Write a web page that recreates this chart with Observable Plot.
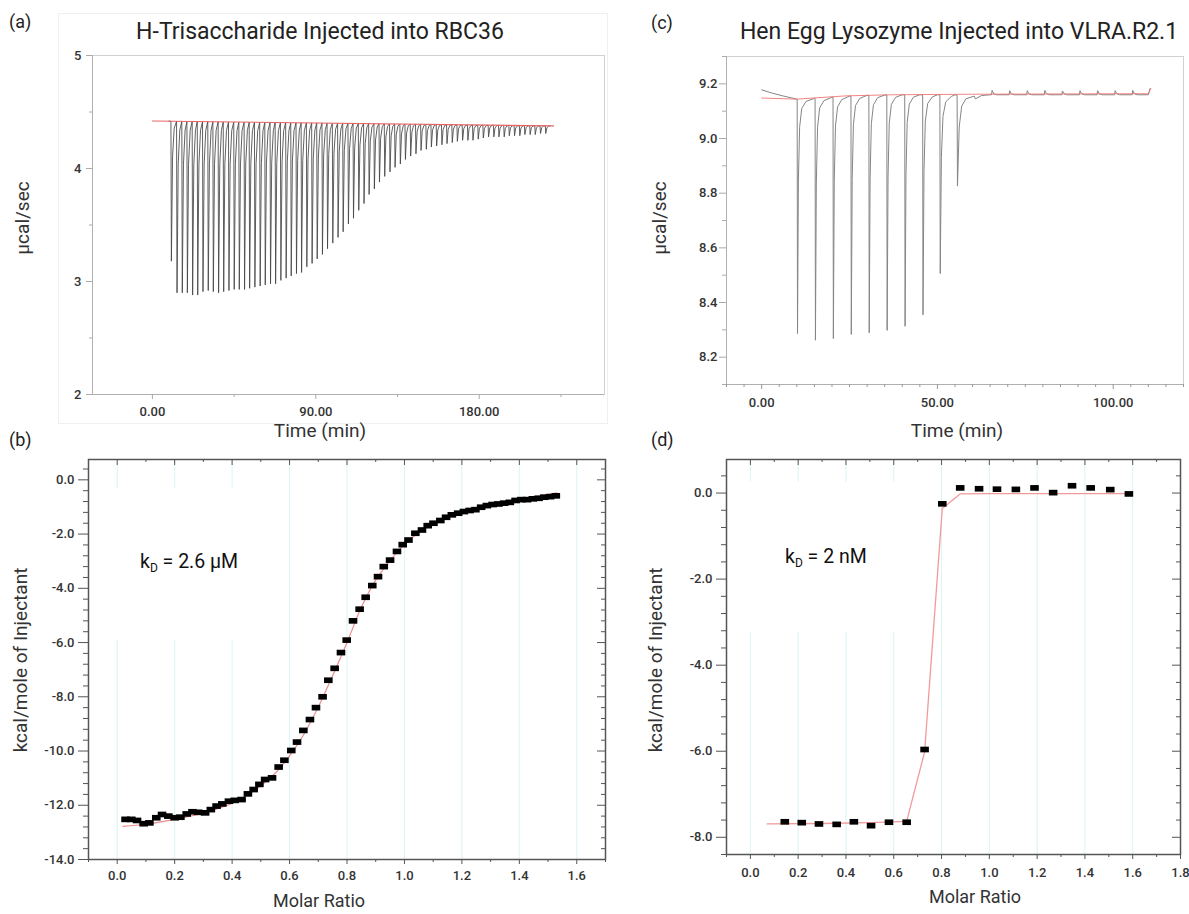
<!DOCTYPE html>
<html><head><meta charset="utf-8">
<script src="https://cdn.jsdelivr.net/npm/d3@7"></script>
<script src="https://cdn.jsdelivr.net/npm/@observablehq/plot@0.6"></script>
<style>
body{margin:0;background:#fff;}
#root{position:relative;width:1189px;height:914px;overflow:hidden;font-family:Roboto,sans-serif;color:#222;background:#fff;}
.abs{position:absolute;white-space:nowrap;line-height:1;}
.c{transform:translate(-50%,-50%);}
.r{transform:translate(-50%,-50%) rotate(-90deg);}
.l{transform:translate(0,-50%);}
.title{font-size:23px;color:#222;}
.tag{font-size:18px;color:#222;}
.axl{font-size:19px;color:#333;}
.axs{font-size:18px;color:#333;}
.kd{font-size:19.5px;color:#111;}
.kd span{font-size:12px;position:relative;top:4px;}
.panel{position:absolute;}
.imgbox{position:absolute;border:1px solid #efefef;}
</style></head>
<body><div id="root"></div>
<script>
// ---------------- Panel (a): thermogram, H-Trisaccharide into RBC36 ----------------
const aInjTime = [10.2, 13.3, 16.2, 19.0, 21.9, 24.7, 27.6, 30.5, 33.3, 36.2, 39.0, 41.9, 44.8, 47.6, 50.5, 53.3, 56.2, 59.1, 61.9, 64.8, 67.6, 70.5, 73.4, 76.2, 79.1, 81.9, 84.8, 87.7, 90.5, 93.4, 96.2, 99.1, 102.0, 104.8, 107.7, 110.5, 113.4, 116.3, 119.1, 122.0, 124.8, 127.7, 130.6, 133.4, 136.3, 139.1, 142.0, 144.9, 147.7, 150.6, 153.4, 156.3, 159.2, 162.0, 164.9, 167.7, 170.6, 173.5, 176.3, 179.2, 182.0, 184.9, 187.8, 190.6, 193.5, 196.3, 199.2, 202.1, 204.9, 207.8, 210.6, 213.5, 216.4];
const aInjTip = [3.18, 2.90, 2.90, 2.90, 2.88, 2.88, 2.91, 2.92, 2.91, 2.90, 2.91, 2.92, 2.93, 2.93, 2.93, 2.94, 2.95, 2.96, 2.97, 2.98, 2.98, 3.01, 3.03, 3.05, 3.07, 3.08, 3.13, 3.16, 3.20, 3.24, 3.29, 3.34, 3.39, 3.44, 3.51, 3.56, 3.63, 3.69, 3.77, 3.82, 3.88, 3.93, 3.97, 4.01, 4.04, 4.08, 4.11, 4.13, 4.16, 4.17, 4.19, 4.20, 4.21, 4.22, 4.23, 4.24, 4.25, 4.25, 4.25, 4.26, 4.27, 4.28, 4.28, 4.28, 4.28, 4.29, 4.29, 4.29, 4.30, 4.30, 4.30, 4.31, 4.31];
const aBaseTime = [0, 221];
const aBaseVal = [4.42, 4.377];
const aTraceStart = 9, aTraceEnd = 219;
const aYTicks = [2, 3, 4, 5];
const aYMinor = [2.5, 3.5, 4.5];
const aXTicks = [0, 90, 180];
const aXMinor = [45, 135, 225];

// ---------------- Panel (b): isotherm, H-Trisaccharide ----------------
const bRatio = [0.029, 0.049, 0.069, 0.092, 0.112, 0.136, 0.156, 0.178, 0.200, 0.220, 0.242, 0.262, 0.282, 0.306, 0.326, 0.346, 0.366, 0.389, 0.409, 0.433, 0.455, 0.475, 0.495, 0.515, 0.539, 0.562, 0.582, 0.606, 0.626, 0.648, 0.671, 0.692, 0.715, 0.735, 0.757, 0.779, 0.799, 0.821, 0.844, 0.865, 0.888, 0.908, 0.928, 0.950, 0.974, 0.994, 1.014, 1.038, 1.061, 1.081, 1.101, 1.125, 1.145, 1.165, 1.187, 1.207, 1.227, 1.247, 1.267, 1.287, 1.307, 1.327, 1.347, 1.367, 1.387, 1.407, 1.427, 1.447, 1.467, 1.487, 1.507, 1.527];
const bHeat = [-12.52, -12.52, -12.56, -12.68, -12.65, -12.46, -12.34, -12.40, -12.46, -12.44, -12.32, -12.24, -12.26, -12.28, -12.16, -12.03, -11.95, -11.85, -11.82, -11.79, -11.58, -11.42, -11.23, -11.05, -10.99, -10.59, -10.34, -9.98, -9.67, -9.24, -8.84, -8.40, -8.00, -7.39, -6.95, -6.37, -5.91, -5.20, -4.77, -4.33, -3.90, -3.57, -3.20, -2.96, -2.64, -2.39, -2.22, -1.97, -1.85, -1.69, -1.60, -1.50, -1.38, -1.29, -1.23, -1.17, -1.13, -1.10, -1.01, -0.95, -0.91, -0.89, -0.86, -0.83, -0.76, -0.73, -0.73, -0.70, -0.68, -0.64, -0.62, -0.59];
const bFitRatio = [0.02, 0.1, 0.2, 0.3, 0.4, 0.5, 0.55, 0.6, 0.65, 0.7, 0.75, 0.8, 0.85, 0.9, 0.95, 1.0, 1.05, 1.1, 1.2, 1.3, 1.4, 1.53];
const bFitHeat = [-12.78, -12.70, -12.52, -12.28, -11.92, -11.28, -10.82, -10.18, -9.38, -8.38, -7.22, -6.0, -4.70, -3.70, -2.98, -2.38, -1.94, -1.62, -1.18, -0.92, -0.72, -0.48];
const bXTicks = [0, 0.2, 0.4, 0.6, 0.8, 1.0, 1.2, 1.4, 1.6];
const bYTicks = [0, -2, -4, -6, -8, -10, -12, -14];
// gridlines interrupted behind the kD label box
const bGapX = [0, 0.2, 0.4];
const bGapY = [-5.92, -0.32];

// ---------------- Panel (c): thermogram, Hen Egg Lysozyme into VLRA.R2.1 ----------------
const cInjTime = [10.1, 15.2, 20.3, 25.4, 30.5, 35.6, 40.7, 45.8, 50.7, 55.6];
const cInjTip = [8.286, 8.262, 8.268, 8.283, 8.289, 8.298, 8.313, 8.355, 8.506, 8.826];
const cInjDecay = [1, 1, 1, 1, 1, 1, 1, 1.1, 1.3, 2.0];
const cBlankTime = [65.4, 70.4, 75.4, 80.4, 85.4, 90.4, 95.4, 100.4, 105.4];
const cBlankTip = [9.176, 9.175, 9.175, 9.176, 9.174, 9.175, 9.175, 9.175, 9.176];
const cTraceTime = [0, 3, 6, 10, 15, 20, 25, 30, 35, 40, 45, 50, 55, 60.8, 62.5, 65, 110, 110.5];
const cTraceVal = [9.178, 9.166, 9.156, 9.144, 9.147, 9.151, 9.155, 9.158, 9.159, 9.160, 9.160, 9.160, 9.160, 9.145, 9.157, 9.160, 9.160, 9.183];
const cBaseTime = [0, 10, 24, 37, 60, 110, 110.7];
const cBaseVal = [9.148, 9.144, 9.156, 9.160, 9.162, 9.164, 9.183];
const cYTicks = [8.2, 8.4, 8.6, 8.8, 9.0, 9.2];
const cXTicks = [0, 50, 100];

// ---------------- Panel (d): isotherm, Hen Egg Lysozyme ----------------
const dRatio = [0.144, 0.215, 0.287, 0.361, 0.433, 0.505, 0.580, 0.654, 0.729, 0.803, 0.878, 0.957, 1.032, 1.111, 1.189, 1.267, 1.346, 1.424, 1.506, 1.584];
const dHeat = [-7.64, -7.66, -7.69, -7.70, -7.64, -7.73, -7.65, -7.65, -5.96, -0.25, 0.12, 0.10, 0.09, 0.085, 0.12, 0.01, 0.17, 0.12, 0.08, -0.02];
const dFitRatio = [0.07, 0.30, 0.50, 0.654, 0.729, 0.803, 0.878, 1.0, 1.59];
const dFitHeat = [-7.69, -7.68, -7.66, -7.63, -6.02, -0.36, -0.02, -0.015, -0.015];
const dXTicks = [0, 0.2, 0.4, 0.6, 0.8, 1.0, 1.2, 1.4, 1.6, 1.8];
const dYTicks = [0, -2, -4, -6, -8];
const dGridX = [0, 0.2, 0.4, 0.6, 0.8, 1.0, 1.2, 1.4, 1.6];
const dGapX = [0, 0.2, 0.4, 0.6];
const dGapY = [-3.24, 0.25];

// ---------------- helpers ----------------
const root = document.getElementById("root");
function txt(html, x, y, cls) {
  const d = document.createElement("div");
  d.className = "abs " + cls;
  d.innerHTML = html;
  d.style.left = x + "px";
  d.style.top = y + "px";
  root.appendChild(d);
}
function place(svg, left, top) {
  const w = document.createElement("div");
  w.className = "panel";
  w.style.left = left + "px";
  w.style.top = top + "px";
  w.appendChild(svg);
  root.appendChild(w);
}
const minorOf = (lo, hi, step, major) => d3.range(Math.round(lo / step), Math.round(hi / step) + 1)
  .map(i => +(i * step).toFixed(6))
  .filter(v => !major.some(m => Math.abs(m - v) < 1e-6));
// grid segments: full height, except split around the label box
function gridSegs(xs, gapX, gapY, yd) {
  const segs = [];
  xs.forEach(x => {
    if (gapX.some(g => Math.abs(g - x) < 1e-9)) {
      segs.push({x, y1: yd[0], y2: gapY[0]}, {x, y1: gapY[1], y2: yd[1]});
    } else segs.push({x, y1: yd[0], y2: yd[1]});
  });
  return segs;
}
const boxSym = { draw(ctx, size) { const r = Math.sqrt(size / Math.PI); const h = r * 0.66; ctx.moveTo(-r, -h); ctx.lineTo(r, -h); ctx.lineTo(r, h); ctx.lineTo(-r, h); ctx.closePath(); } };
const f1 = d => d.toFixed(1);
const f2 = d => d.toFixed(2);
const none = () => "";
const baseStyle = {fontFamily: "Roboto, sans-serif", fontSize: "13px", fontWeight: 500, color: "#333", background: "transparent", overflow: "visible"};
const gridColor = "#dcf3f7";

// ---------------- build traces ----------------
const aBase = d3.scaleLinear().domain(aBaseTime).range(aBaseVal);
const aTrace = [{t: aTraceStart, v: aBase(aTraceStart)}];
aInjTime.forEach((t, i) => {
  const b = aBase(t), d = aInjTip[i] - b;
  aTrace.push({t, v: b}, {t: t + 0.25, v: aInjTip[i]}, {t: t + 0.9, v: b + d * 0.25}, {t: t + 1.8, v: b + d * 0.05});
});
aTrace.push({t: aTraceEnd, v: aBase(aTraceEnd)});
const aBaseline = aBaseTime.map((t, i) => ({t, v: aBaseVal[i]}));

const cBase = d3.scaleLinear().domain(cTraceTime).range(cTraceVal);
const cTrace = [];
const spans = [];
cInjTime.forEach((t, i) => {
  const b = cBase(t), tip = cInjTip[i], d = tip - b, k = cInjDecay[i];
  const pts = [[t, b], [t + 0.1, tip], [t + 0.1 + 0.25 * k, b + 0.35 * d], [t + 0.1 + 0.6 * k, b + 0.12 * d], [t + 0.1 + 1.2 * k, b + 0.04 * d], [t + 0.1 + 2.4 * k, b + 0.01 * d]];
  spans.push([t, t + 0.1 + 2.4 * k]);
  pts.forEach(([x, y]) => cTrace.push({t: x, v: y}));
});
cBlankTime.forEach((t, i) => {
  const b = cBase(t);
  [[t, b], [t + 0.15, cBlankTip[i]], [t + 0.6, b + 0.004], [t + 1.4, b]].forEach(([x, y]) => cTrace.push({t: x, v: y}));
  spans.push([t, t + 1.4]);
});
cTraceTime.forEach((t, i) => {
  if (!spans.some(([a, z]) => t >= a - 0.01 && t <= z + 0.01)) cTrace.push({t, v: cTraceVal[i]});
});
cTrace.sort((p, q) => p.t - q.t);
const cBaseline = cBaseTime.map((t, i) => ({t, v: cBaseVal[i]}));

// faint border of the original (a) picture
{
  const b = document.createElement("div");
  b.className = "imgbox";
  b.style.left = "58px"; b.style.top = "13px"; b.style.width = "548px"; b.style.height = "409px";
  root.appendChild(b);
}

// ---------------- Panel (a) ----------------
{
  const W = 612, H = 400, m = {top: 15, right: 8, bottom: 46, left: 92};
  const xd = [-33, 249], yd = [2, 5];
  place(Plot.plot({
    width: W, height: H, marginTop: m.top, marginRight: m.right, marginBottom: m.bottom, marginLeft: m.left,
    x: {domain: xd}, y: {domain: yd}, style: baseStyle,
    marks: [
      Plot.frame({stroke: "#d0d0d0"}),
      Plot.ruleX([xd[0]], {stroke: "#b0b0b0"}),
      Plot.ruleY([yd[0]], {stroke: "#b0b0b0"}),
      Plot.axisY(aYTicks, {tickSize: 6, tickPadding: 5, stroke: "#aaa", fill: "#333", tickFormat: d => String(d), label: null}),
      Plot.axisY(aYMinor, {tickSize: 3, stroke: "#aaa", tickFormat: none, label: null}),
      Plot.axisX(aXTicks, {tickSize: 5, tickPadding: 7, stroke: "#aaa", fill: "#333", tickFormat: f2, label: null}),
      Plot.axisX(aXMinor, {tickSize: 3, stroke: "#aaa", tickFormat: none, label: null}),
      Plot.line(aTrace, {x: "t", y: "v", stroke: "#444", strokeWidth: 0.85}),
      Plot.line(aBaseline, {x: "t", y: "v", stroke: "#e86464", strokeWidth: 1.1})
    ]
  }), 0, 40);
}

// ---------------- Panel (b) ----------------
{
  const W = 612, H = 469, m = {top: 14, right: 7, bottom: 55, left: 88};
  const xd = [-0.1, 1.7], yd = [-14, 0.75];
  const fh = H - m.top - m.bottom, fw = W - m.left - m.right;
  const xMinor = minorOf(-0.1, 1.7, 0.1, bXTicks);
  const yMinor = minorOf(-14, 0.4, 0.4, bYTicks);
  const pts = bRatio.map((x, i) => ({x, y: bHeat[i]}));
  const fit = bFitRatio.map((x, i) => ({x, y: bFitHeat[i]}));
  place(Plot.plot({
    width: W, height: H, marginTop: m.top, marginRight: m.right, marginBottom: m.bottom, marginLeft: m.left,
    x: {domain: xd}, y: {domain: yd}, style: baseStyle,
    marks: [
      Plot.ruleX(gridSegs(bXTicks, bGapX, bGapY, yd), {x: "x", y1: "y1", y2: "y2", stroke: gridColor, strokeWidth: 1}),
      Plot.axisY(bYTicks, {tickSize: 10, tickPadding: 4, stroke: "#555", fill: "#333", tickFormat: f1, label: null}),
      Plot.axisY(yMinor, {tickSize: 5, stroke: "#555", tickFormat: none, label: null}),
      Plot.axisX(bXTicks, {tickSize: 5, tickPadding: 6, stroke: "#555", fill: "#333", tickFormat: f1, label: null}),
      Plot.axisX(xMinor, {tickSize: 3, stroke: "#555", tickFormat: none, label: null}),
      Plot.tickX(bXTicks, {x: d => d, stroke: "#555", insetBottom: fh - 6}),
      Plot.tickX(xMinor, {x: d => d, stroke: "#555", insetBottom: fh - 3}),
      Plot.tickY(bYTicks, {y: d => d, stroke: "#555", insetLeft: fw - 8}),
      Plot.tickY(yMinor, {y: d => d, stroke: "#555", insetLeft: fw - 4}),
      Plot.frame({stroke: "#555", strokeWidth: 1.5}),
      Plot.line(fit, {x: "x", y: "y", stroke: "#f08c8c", strokeWidth: 1.2, curve: "catmull-rom"}),
      Plot.dot(pts, {x: "x", y: "y", symbol: boxSym, r: 4.3, fill: "#000", stroke: "none"})
    ]
  }), 0, 445);
}

// ---------------- Panel (c) ----------------
{
  const W = 569, H = 400, m = {top: 16, right: 6, bottom: 56, left: 106};
  const xd = [-10, 120], yd = [8.1, 9.3];
  const xMinor = minorOf(-10, 120, 5, cXTicks);
  const yMinor = minorOf(8.1, 9.3, 0.1, cYTicks);
  place(Plot.plot({
    width: W, height: H, marginTop: m.top, marginRight: m.right, marginBottom: m.bottom, marginLeft: m.left,
    x: {domain: xd}, y: {domain: yd}, style: baseStyle,
    marks: [
      Plot.frame({stroke: "#d0d0d0"}),
      Plot.ruleX([xd[0]], {stroke: "#b0b0b0"}),
      Plot.ruleY([yd[0]], {stroke: "#b0b0b0"}),
      Plot.axisY(cYTicks, {tickSize: 7, tickPadding: 2, stroke: "#aaa", fill: "#333", tickFormat: f1, label: null}),
      Plot.axisY(yMinor, {tickSize: 4, stroke: "#aaa", tickFormat: none, label: null}),
      Plot.axisX(cXTicks, {tickSize: 5, tickPadding: 8, stroke: "#999", fill: "#333", tickFormat: f2, label: null}),
      Plot.axisX(xMinor, {tickSize: 3, stroke: "#999", tickFormat: none, label: null}),
      Plot.line(cTrace, {x: "t", y: "v", stroke: "#858585", strokeWidth: 1}),
      Plot.line(cBaseline, {x: "t", y: "v", stroke: "#f07070", strokeWidth: 1, strokeOpacity: 0.85})
    ]
  }), 620, 40);
}

// ---------------- Panel (d) ----------------
{
  const W = 569, H = 469, m = {top: 14, right: 9, bottom: 60, left: 106};
  const xd = [-0.1, 1.8], yd = [-8.4, 0.78];
  const fh = H - m.top - m.bottom, fw = W - m.left - m.right;
  const xMinor = minorOf(-0.1, 1.8, 0.1, dXTicks);
  const yMinor = minorOf(-8.4, 0.4, 0.4, dYTicks);
  const pts = dRatio.map((x, i) => ({x, y: dHeat[i]}));
  const fit = dFitRatio.map((x, i) => ({x, y: dFitHeat[i]}));
  place(Plot.plot({
    width: W, height: H, marginTop: m.top, marginRight: m.right, marginBottom: m.bottom, marginLeft: m.left,
    x: {domain: xd}, y: {domain: yd}, style: baseStyle,
    marks: [
      Plot.ruleX(gridSegs(dGridX, dGapX, dGapY, yd), {x: "x", y1: "y1", y2: "y2", stroke: gridColor, strokeWidth: 1}),
      Plot.axisY(dYTicks, {tickSize: 10, tickPadding: 4, stroke: "#555", fill: "#333", tickFormat: f1, label: null}),
      Plot.axisY(yMinor, {tickSize: 5, stroke: "#555", tickFormat: none, label: null}),
      Plot.axisX(dXTicks, {tickSize: 5, tickPadding: 8, stroke: "#555", fill: "#333", tickFormat: f1, label: null}),
      Plot.axisX(xMinor, {tickSize: 3, stroke: "#555", tickFormat: none, label: null}),
      Plot.tickX(dXTicks, {x: d => d, stroke: "#555", insetBottom: fh - 6}),
      Plot.tickX(xMinor, {x: d => d, stroke: "#555", insetBottom: fh - 3}),
      Plot.tickY(dYTicks, {y: d => d, stroke: "#555", insetLeft: fw - 8}),
      Plot.tickY(yMinor, {y: d => d, stroke: "#555", insetLeft: fw - 4}),
      Plot.frame({stroke: "#555", strokeWidth: 1.5}),
      Plot.line(fit, {x: "x", y: "y", stroke: "#f29a9a", strokeWidth: 1.3}),
      Plot.dot(pts, {x: "x", y: "y", symbol: boxSym, r: 4.3, fill: "#000", stroke: "none"})
    ]
  }), 620, 445);
}

// ---------------- text ----------------
txt("(a)", 9, 22, "tag l");
txt("(b)", 9, 440, "tag l");
txt("(c)", 651, 23, "tag l");
txt("(d)", 651, 440, "tag l");
txt("H-Trisaccharide Injected into RBC36", 320, 31, "title c");
txt("Hen Egg Lysozyme Injected into VLRA.R2.1", 959, 31, "title c");
txt("Time (min)", 320, 430, "axl c");
txt("µcal/sec", 22, 218, "axl r");
txt("Time (min)", 957, 430, "axl c");
txt("µcal/sec", 659, 218, "axl r");
txt("Molar Ratio", 319, 901, "axs c");
txt("kcal/mole of Injectant", 20, 660, "axl r");
txt("Molar Ratio", 975, 897, "axs c");
txt("kcal/mole of Injectant", 655, 660, "axl r");
txt("k<span>D</span> = 2.6 µM", 140, 562, "kd l");
txt("k<span>D</span> = 2 nM", 785, 557, "kd l");
</script></body></html>
